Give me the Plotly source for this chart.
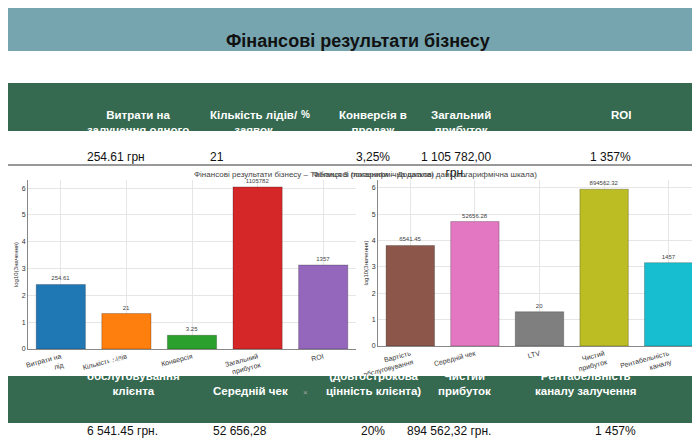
import numpy as np
import plotly.graph_objects as go
from plotly.subplots import make_subplots

# верхня таблиця
top_headers = ["Витрати на<br>залучення одного<br>ліда", "Кількість лідів/<br>заявок", "%",
               "Конверсія в<br>продаж", "Загальний<br>прибуток", "ROI"]
top_values = ["254.61 грн", "21", "", "3,25%", "1 105 782,00<br>грн.", "1 357%"]
top_x = [77, 200, 297, 365, 485, 625]

# нижня таблиця
bot_headers = ["Вартість<br>обслуговування<br>клієнта", "Середній чек", "×",
               "LTV<br>(довгострокова<br>цінність клієнта)", "Чистий<br>прибуток",
               "Рентабельність<br>каналу залучення"]
bot_values = ["6 541.45 грн.", "52 656,28", "", "20%", "894 562,32 грн.", "1 457%"]
bot_x = [77, 203, 297, 365, 485, 630]

# графік 1
cats1 = ["Витрати на<br>лід", "Кількість лідів", "Конверсія", "Загальний<br>прибуток", "ROI"]
vals1 = [254.61, 21, 3.25, 1105782, 1357]
labels1 = ["254.61", "21", "3.25", "1105782", "1357"]
colors1 = ["#1f77b4", "#ff7f0e", "#2ca02c", "#d62728", "#9467bd"]

# графік 2
cats2 = ["Вартість<br>обслуговування", "Середній чек", "LTV", "Чистий<br>прибуток", "Рентабельність<br>каналу"]
vals2 = [6541.45, 52656.28, 20, 894562.32, 1457]
labels2 = ["6541.45", "52656.28", "20", "894562.32", "1457"]
colors2 = ["#8c564b", "#e377c2", "#7f7f7f", "#bcbd22", "#17becf"]

W, H = 700, 445
def py(y):
    return 1 - y / H
def px(x):
    return x / W

fig = make_subplots(rows=1, cols=2)
fig.add_trace(go.Bar(x=cats1, y=np.log10(vals1), marker_color=colors1, width=0.75,
                     marker_line=dict(color="rgba(0,0,0,0.4)", width=0.6),
                     text=labels1, textposition="outside",
                     textfont=dict(size=6, color="#444"), cliponaxis=False), 1, 1)
fig.add_trace(go.Bar(x=cats2, y=np.log10(vals2), marker_color=colors2, width=0.75,
                     marker_line=dict(color="rgba(0,0,0,0.4)", width=0.6),
                     text=labels2, textposition="outside",
                     textfont=dict(size=6, color="#444"), cliponaxis=False), 1, 2)

axis_style = dict(showgrid=True, gridcolor="#e6e6e6", linecolor="#888", showline=True,
                  tickfont=dict(size=7, color="#333"), ticks="", automargin=False)
fig.update_xaxes(tickangle=-15, **axis_style)
fig.update_yaxes(range=[0, 6.3], dtick=1,
                 title=dict(text="log10(Значення)", font=dict(size=6, color="#333"), standoff=2),
                 **axis_style)
fig.update_layout(
    xaxis=dict(domain=[px(20), px(348)]),
    xaxis2=dict(domain=[px(370), px(693)]),
    yaxis=dict(domain=[py(341), py(172)]),
    yaxis2=dict(domain=[py(338), py(172)]),
)

shapes = [
    dict(type="rect", xref="paper", yref="paper", x0=0, x1=1, y0=py(43), y1=py(0),
         fillcolor="#76a5af", line_width=0, layer="below"),
    dict(type="rect", xref="paper", yref="paper", x0=0, x1=1, y0=py(123), y1=py(75),
         fillcolor="#356a50", line_width=0, layer="below"),
    dict(type="rect", xref="paper", yref="paper", x0=0, x1=1, y0=py(368), y1=py(415),
         fillcolor="#356a50", line_width=0, layer="below"),
    dict(type="line", xref="paper", yref="paper", x0=0, x1=1, y0=py(157), y1=py(157),
         line=dict(color="#999", width=2)),
]

ann = [dict(text="<b>Фінансові результати бізнесу</b>", x=0.5, y=py(21), xref="paper", yref="paper",
            showarrow=False, font=dict(size=18, color="#111"))]
for x, h, v in zip(top_x, top_headers, top_values):
    ann.append(dict(text="<b>" + h + "</b>", x=px(x), y=py(99), xref="paper", yref="paper",
                    showarrow=False, font=dict(size=11.5 if h != "%" else 10, color="white")))
    ann.append(dict(text=v, x=px(x), y=py(140), xref="paper", yref="paper",
                    showarrow=False, font=dict(size=12, color="#111")))
for x, h, v in zip(bot_x, bot_headers, bot_values):
    ann.append(dict(text="<b>" + h + "</b>" if h != "×" else h, x=px(x), y=py(391), xref="paper", yref="paper",
                    showarrow=False, font=dict(size=11.5 if h != "×" else 8, color="white" if h != "×" else "#aaa")))
    ann.append(dict(text=v, x=px(x), y=py(432), xref="paper", yref="paper",
                    showarrow=False, font=dict(size=12, color="#111")))
ann.append(dict(text="Фінансові результати бізнесу – Таблиця 3 (логарифмічна шкала)", x=px(184), y=py(166),
                xref="paper", yref="paper", showarrow=False, font=dict(size=8, color="#444")))
ann.append(dict(text="Фінансові показники – Додаткові дані (логарифмічна шкала)", x=px(531), y=py(166),
                xref="paper", yref="paper", showarrow=False, font=dict(size=8, color="#444")))

fig.update_layout(width=W, height=H, margin=dict(l=0, r=0, t=0, b=0, autoexpand=False), showlegend=False,
                  paper_bgcolor="white", plot_bgcolor="white",
                  font=dict(family="Liberation Sans, Arial, sans-serif"),
                  shapes=shapes, annotations=ann)
fig.write_html("out.html")
